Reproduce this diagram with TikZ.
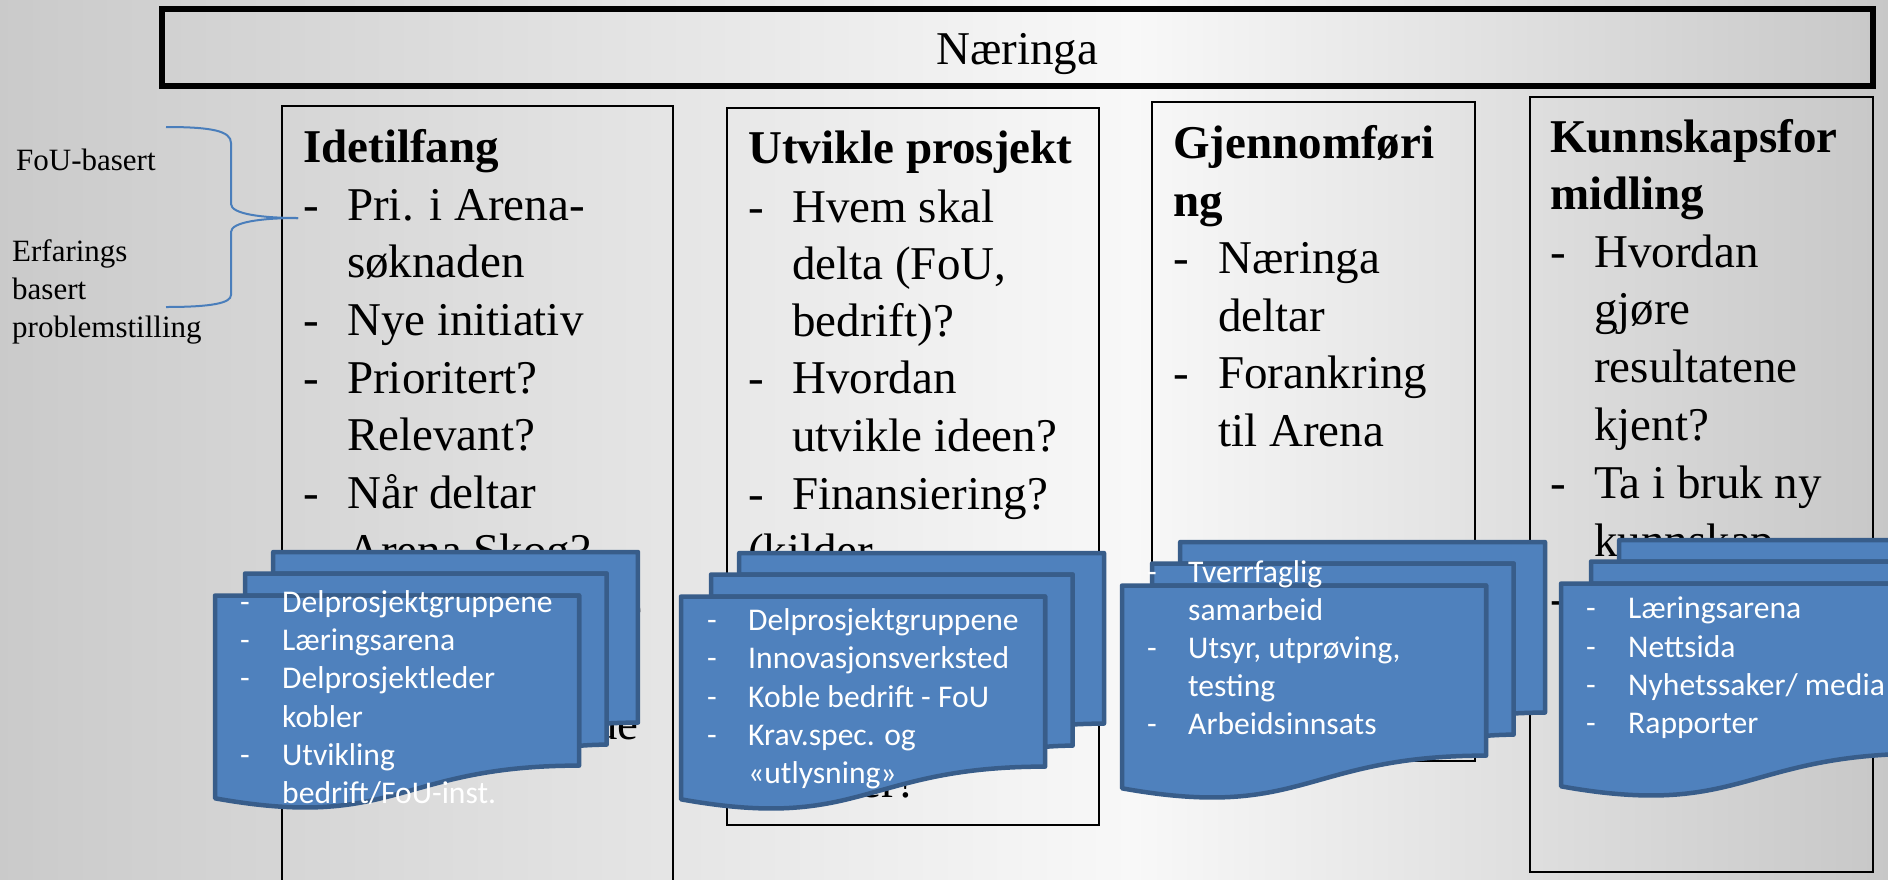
\documentclass[tikz,border=0pt]{standalone}
\usepackage{fontspec}
\setmainfont{Liberation Serif}
\newfontfamily\calfont{Carlito}
\definecolor{bgL}{HTML}{A4A4A4}
\definecolor{bgM}{HTML}{F8F8F8}
\definecolor{bgR}{HTML}{8A8A8A}
\definecolor{docfill}{HTML}{4F81BD}
\definecolor{docline}{HTML}{385D8A}
\definecolor{bracecol}{HTML}{4A7EBB}
\pgfdeclarehorizontalshading{bgshade}{100bp}{color(0bp)=(bgL); color(55bp)=(bgM); color(100bp)=(bgR)}
\tikzset{
  coltext/.style={anchor=base west, inner sep=0pt, font=\fontsize{47}{57.5}\selectfont},
  coltitle/.style={anchor=base west, inner sep=0pt, font=\fontsize{47}{57.5}\selectfont\bfseries},
  colfrag/.style={anchor=base east, inner sep=0pt, font=\fontsize{47}{57.5}\selectfont},
  sidetext/.style={anchor=base west, inner sep=0pt, font=\fontsize{31}{37.5}\selectfont},
  bluetext/.style={anchor=base west, inner sep=0pt, text=white, font=\calfont\fontsize{31.6}{38}\selectfont},
  colbox/.style={draw=black, line width=1.6pt},
  topbox/.style={draw=black, line width=6pt},
  docshape/.style={fill=docfill, draw=docline, line width=4.5pt, line join=round},
  bracestyle/.style={draw=bracecol, line width=2pt},
}
\newcommand\multidoc[2]{%
  \begin{scope}[shift={(#1,#2)}]
    \begin{scope}[x=1.9583pt, y=-1.1852pt]
      \path[docshape] (29.72,18.15) -- (29.72,0) -- (216,0) -- (216,143.92)
        .. controls (208,143.92) and (200,144.67) .. (200,144.67) -- (200,18.15) -- cycle;
      \path[docshape] (15.32,36.75) -- (15.32,18.15) -- (200,18.15) -- (200,162.52)
        .. controls (192.98,162.52) and (185.95,163.52) .. (185.95,163.52) -- (185.95,36.75) -- cycle;
      \path[docshape] (0,207.82) .. controls (92.98,235.42) and (92.98,180.22) .. (185.95,180.22)
        -- (185.95,36.75) -- (0,36.75) -- cycle;
    \end{scope}
  \end{scope}}
\begin{document}
\begin{tikzpicture}[x=1pt, y=-1pt]
\useasboundingbox (0,0) rectangle (1888,879);
\clip (0,0) rectangle (1888,879);
\fill[shading=bgshade] (0,0) rectangle (1888,879);

% top box
\draw[topbox] (162,9) rectangle (1873,86);
\node[anchor=base, inner sep=0pt, font=\fontsize{47}{57.5}\selectfont] (naer) at (1017,64) {Næringa};

% column boxes
\draw[colbox] (282,106) rectangle (673,895);
\draw[colbox] (727,108) rectangle (1099,825);
\draw[colbox] (1152,102) rectangle (1475,761);
\draw[colbox] (1530,97) rectangle (1873,872);

% column 1
\node[coltitle] (c1h) at (303,162) {Idetilfang};
\node[coltext] (c1b1) at (303,220) {-};
\node[coltext] (c1t1) at (347,220) {Pri. i Arena-};
\node[coltext] (c1t2) at (347,277) {søknaden};
\node[coltext] (c1b3) at (303,335) {-};
\node[coltext] (c1t3) at (347,335) {Nye initiativ};
\node[coltext] (c1b4) at (303,393) {-};
\node[coltext] (c1t4) at (347,393) {Prioritert?};
\node[coltext] (c1t5) at (347,450) {Relevant?};
\node[coltext] (c1b6) at (303,508) {-};
\node[coltext] (c1t6) at (347,508) {Når deltar};
\node[coltext] (c1t7) at (347,566) {Arena Skog?};
\node[colfrag] (c1f1) at (643,623) {e};
\node[colfrag] (c1f2) at (639,739) {ue};

% column 2
\node[coltitle] (c2h) at (748,163) {Utvikle prosjekt};
\node[coltext] (c2b1) at (748,222) {-};
\node[coltext] (c2t1) at (792,222) {Hvem skal};
\node[coltext] (c2t2) at (792,279) {delta (FoU,};
\node[coltext] (c2t3) at (792,336) {bedrift)?};
\node[coltext] (c2b4) at (748,393) {-};
\node[coltext] (c2t4) at (792,393) {Hvordan};
\node[coltext] (c2t5) at (792,451) {utvikle ideen?};
\node[coltext] (c2b6) at (748,509) {-};
\node[coltext] (c2t6) at (792,509) {Finansiering?};
\node[coltext] (c2t7) at (748,566) {(kilder};
\node[colfrag] (c2f1) at (918,797) {ler?};

% column 3
\node[coltitle] (c3h1) at (1173,158) {Gjennomføri};
\node[coltitle] (c3h2) at (1173,216) {ng};
\node[coltext] (c3b1) at (1173,273) {-};
\node[coltext] (c3t1) at (1218,273) {Næringa};
\node[coltext] (c3t2) at (1218,331) {deltar};
\node[coltext] (c3b3) at (1173,388) {-};
\node[coltext] (c3t3) at (1218,388) {Forankring};
\node[coltext] (c3t4) at (1218,446) {til Arena};

% column 4
\node[coltitle] (c4h1) at (1550,152) {Kunnskapsfor};
\node[coltitle] (c4h2) at (1550,209) {midling};
\node[coltext] (c4b1) at (1550,267) {-};
\node[coltext] (c4t1) at (1594,267) {Hvordan};
\node[coltext] (c4t2) at (1594,324) {gjøre};
\node[coltext] (c4t3) at (1594,382) {resultatene};
\node[coltext] (c4t4) at (1594,440) {kjent?};
\node[coltext] (c4b5) at (1550,498) {-};
\node[coltext] (c4t5) at (1594,498) {Ta i bruk ny};
\node[coltext] (c4t6) at (1594,556) {kunnskap};
\node[coltext] (c4b7) at (1550,614) {-};

% side labels and brace
\node[sidetext] (fou) at (16,170) {FoU-basert};
\node[sidetext] (erf1) at (12,261) {Erfarings};
\node[sidetext] (erf2) at (12,299) {basert};
\node[sidetext] (erf3) at (12,337) {problemstilling};
\coordinate (brtop) at (166,127);
\coordinate (brtip) at (298,218);
\coordinate (brbot) at (166,307);
\draw[bracestyle] (brtop) .. controls (212,127) and (231,131) .. (231,143) -- (231,204)
  .. controls (231,214) and (262,218) .. (brtip);
\draw[bracestyle] (brtip) .. controls (262,218) and (231,222) .. (231,232) -- (231,295)
  .. controls (231,303) and (212,307) .. (brbot);

% blue multi-documents
\multidoc{215}{552}
\node[bluetext] at (240,612) {-};
\node[bluetext] (g1t1) at (282,612) {Delprosjektgruppene};
\node[bluetext] at (240,650) {-};
\node[bluetext] (g1t2) at (282,650) {Læringsarena};
\node[bluetext] at (240,688) {-};
\node[bluetext] (g1t3) at (282,688) {Delprosjektleder};
\node[bluetext] (g1t4) at (282,727) {kobler};
\node[bluetext] at (240,765) {-};
\node[bluetext] (g1t5) at (282,765) {Utvikling};
\node[bluetext] (g1t6) at (282,803) {bedrift/FoU-inst.};

\multidoc{681}{553}
\node[bluetext] at (707,630) {-};
\node[bluetext] (g2t1) at (748,630) {Delprosjektgruppene};
\node[bluetext] at (707,668) {-};
\node[bluetext] (g2t2) at (748,668) {Innovasjonsverksted};
\node[bluetext] at (707,707) {-};
\node[bluetext] (g2t3) at (748,707) {Koble bedrift - FoU};
\node[bluetext] at (707,745) {-};
\node[bluetext] (g2t4) at (748,745) {Krav.spec. og};
\node[bluetext] (g2t5) at (748,783) {«utlysning»};

\multidoc{1122}{542}
\node[bluetext] at (1147,582) {-};
\node[bluetext] (g3t1) at (1188,582) {Tverrfaglig};
\node[bluetext] (g3t2) at (1188,620) {samarbeid};
\node[bluetext] at (1147,658) {-};
\node[bluetext] (g3t3) at (1188,658) {Utsyr, utprøving,};
\node[bluetext] (g3t4) at (1188,696) {testing};
\node[bluetext] at (1147,734) {-};
\node[bluetext] (g3t5) at (1188,734) {Arbeidsinnsats};

\multidoc{1561}{540}
\node[bluetext] at (1586,618) {-};
\node[bluetext] (g4t1) at (1628,618) {Læringsarena};
\node[bluetext] at (1586,657) {-};
\node[bluetext] (g4t2) at (1628,657) {Nettsida};
\node[bluetext] at (1586,695) {-};
\node[bluetext] (g4t3) at (1628,695) {Nyhetssaker/ media};
\node[bluetext] at (1586,733) {-};
\node[bluetext] (g4t4) at (1628,733) {Rapporter};
\end{tikzpicture}
\end{document}
